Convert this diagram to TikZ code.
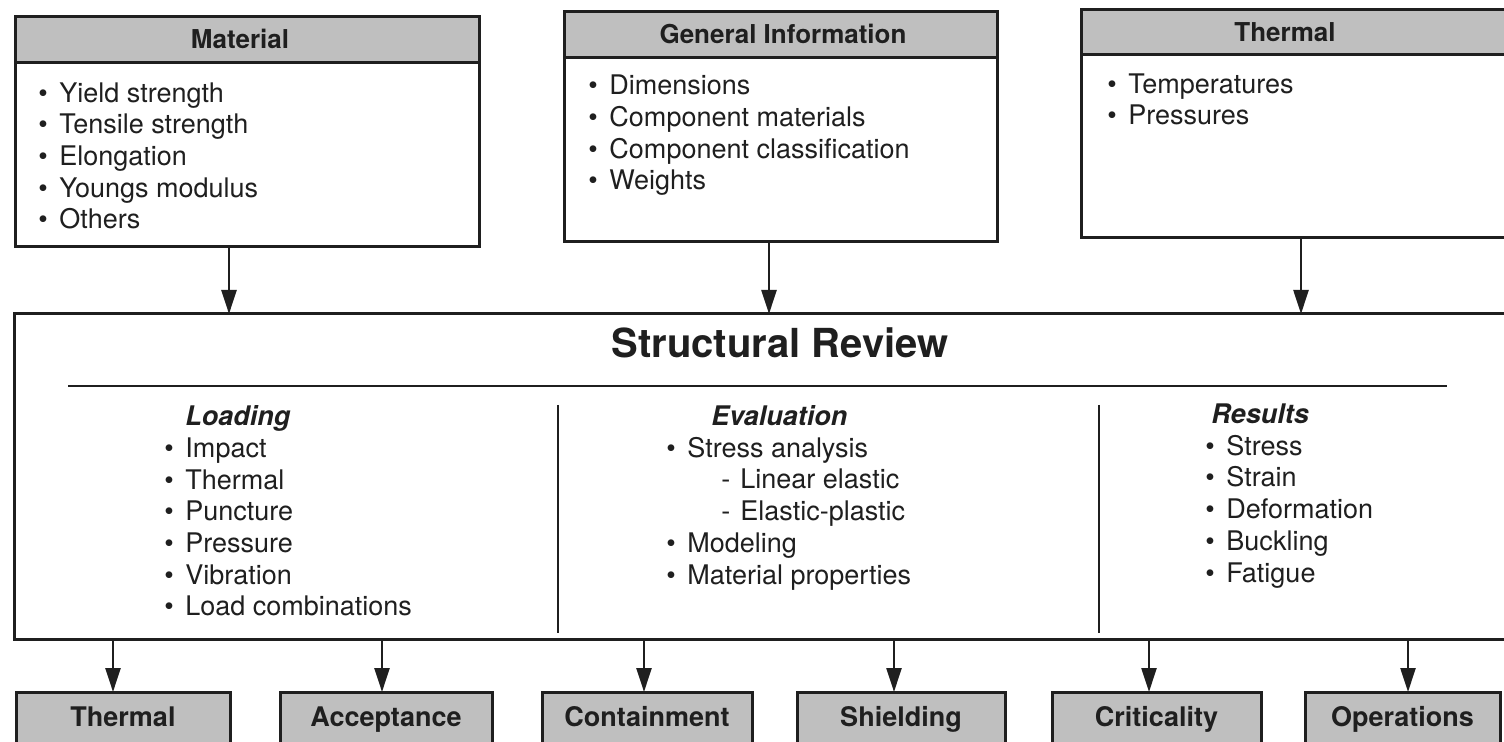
\documentclass[tikz,border=0pt]{standalone}
\usepackage{fontspec}
\setmainfont{TeX Gyre Heros}
\usetikzlibrary{fit,arrows.meta}
\definecolor{ink}{gray}{0.12}
\definecolor{stip}{gray}{0.75}
\newcommand\bl{\makebox[10.5pt][l]{•}}
\newcommand\sbl{\hspace*{27.5pt}\makebox[9.5pt][l]{-}}
\begin{document}
\begin{tikzpicture}[x=0.5pt,y=-0.5pt,
  frame/.style={draw=ink, line width=1.5pt, inner sep=0pt, outer sep=0pt},
  hdr/.style={frame, fill=stip},
  hdrtxt/.style={font=\fontsize{13}{15}\selectfont\bfseries, text=ink, inner sep=0pt, anchor=base},
  btxt/.style={font=\fontsize{13.5}{15}\selectfont\bfseries, text=ink, inner sep=0pt, anchor=base},
  list/.style={font=\fontsize{13.5}{15.85}\selectfont, text=ink, align=left, inner sep=0pt, anchor=base west},
  arr/.style={draw=ink, line width=1.2pt, -{Triangle[length=12pt,width=7.5pt]}},
  rule/.style={draw=ink, line width=1.2pt},
  divider/.style={draw=ink, line width=1.1pt}]
\useasboundingbox (0,0) rectangle (1504,742);
\clip (0,0) rectangle (1504,742);
\fill[white] (0,0) rectangle (1504,742);

% Material (list node placed by the baseline of its last line)
\node[hdr, fit={(15,17)(479,63)}] (mh) {};
\node[frame, fit={(15,17)(479,247)}] (mat) {};
\node[hdrtxt] (mht) at (240,49) {Material};
\node[list] (matl) at (38,229) {\bl Yield strength\\ \bl Tensile strength\\ \bl Elongation\\ \bl Youngs modulus\\ \bl Others};

% General information
\node[hdr, fit={(564,12)(997,58)}] (gh) {};
\node[frame, fit={(564,12)(997,242)}] (gen) {};
\node[hdrtxt] (ght) at (783,44) {General Information};
\node[list] (genl) at (588,190) {\bl Dimensions\\ \bl Component materials\\ \bl Component classification\\ \bl Weights};

% Thermal (top)
\node[hdr, fit={(1081,10)(1515,55)}] (th) {};
\node[frame, fit={(1081,10)(1515,238)}] (thm) {};
\node[hdrtxt] (tht) at (1285,42) {Thermal};
\node[list] (thml) at (1107,125) {\bl Temperatures\\ \bl Pressures};

% Structural review
\node[frame, fit={(14,314)(1515,639)}] (sr) {};
\node[font=\fontsize{20}{24}\selectfont\bfseries, text=ink, inner sep=0pt, anchor=base] (srt) at (780,358) {Structural Review};
\coordinate (r1) at (68,386); \coordinate (r2) at (1447,386);
\draw[rule] (r1) -- (r2);
\coordinate (d1t) at (558,405); \coordinate (d1b) at (558,633);
\coordinate (d2t) at (1099,405); \coordinate (d2b) at (1099,633);
\draw[divider] (d1t) -- (d1b);
\draw[divider] (d2t) -- (d2b);

\node[list] (load) at (164,616) {\hspace*{10.5pt}{\bfseries\itshape Loading}\\ \bl Impact\\ \bl Thermal\\ \bl Puncture\\ \bl Pressure\\ \bl Vibration\\ \bl Load combinations};
\node[list] (eval) at (666,584) {\hspace*{22.5pt}{\bfseries\itshape Evaluation}\\ \bl Stress analysis\\ \sbl Linear elastic\\ \sbl Elastic-plastic\\ \bl Modeling\\ \bl Material properties};
\node[list] (res) at (1205,582) {\hspace*{3pt}{\bfseries\itshape Results}\\ \bl Stress\\ \bl Strain\\ \bl Deformation\\ \bl Buckling\\ \bl Fatigue};

% top arrows
\coordinate (a1) at (229,0); \coordinate (a2) at (769,0); \coordinate (a3) at (1301,0);
\draw[arr] (a1 |- mat.south) -- (a1 |- sr.north);
\draw[arr] (a2 |- gen.south) -- (a2 |- sr.north);
\draw[arr] (a3 |- thm.south) -- (a3 |- sr.north);

% bottom boxes
\coordinate (by) at (0,726);
\node[hdr, fit={(16,692)(230,760)}] (b1) {};
\node[hdr, fit={(280,692)(492,760)}] (b2) {};
\node[hdr, fit={(542,692)(752,760)}] (b3) {};
\node[hdr, fit={(797,692)(1005,760)}] (b4) {};
\node[hdr, fit={(1052,692)(1261,760)}] (b5) {};
\node[hdr, fit={(1305,692)(1500,760)}] (b6) {};
\node[btxt] (t1) at (b1 |- by) {Thermal};
\node[btxt] (t2) at (b2 |- by) {Acceptance};
\node[btxt] (t3) at (b3 |- by) {Containment};
\node[btxt] (t4) at (b4 |- by) {Shielding};
\node[btxt] (t5) at (b5 |- by) {Criticality};
\node[btxt] (t6) at (b6 |- by) {Operations};

\coordinate (x1) at (113,0); \coordinate (x2) at (382,0); \coordinate (x3) at (644,0);
\coordinate (x4) at (894,0); \coordinate (x5) at (1149,0); \coordinate (x6) at (1408,0);
\draw[arr] (x1 |- sr.south) -- (x1 |- b1.north);
\draw[arr] (x2 |- sr.south) -- (x2 |- b2.north);
\draw[arr] (x3 |- sr.south) -- (x3 |- b3.north);
\draw[arr] (x4 |- sr.south) -- (x4 |- b4.north);
\draw[arr] (x5 |- sr.south) -- (x5 |- b5.north);
\draw[arr] (x6 |- sr.south) -- (x6 |- b6.north);
\end{tikzpicture}
\end{document}
